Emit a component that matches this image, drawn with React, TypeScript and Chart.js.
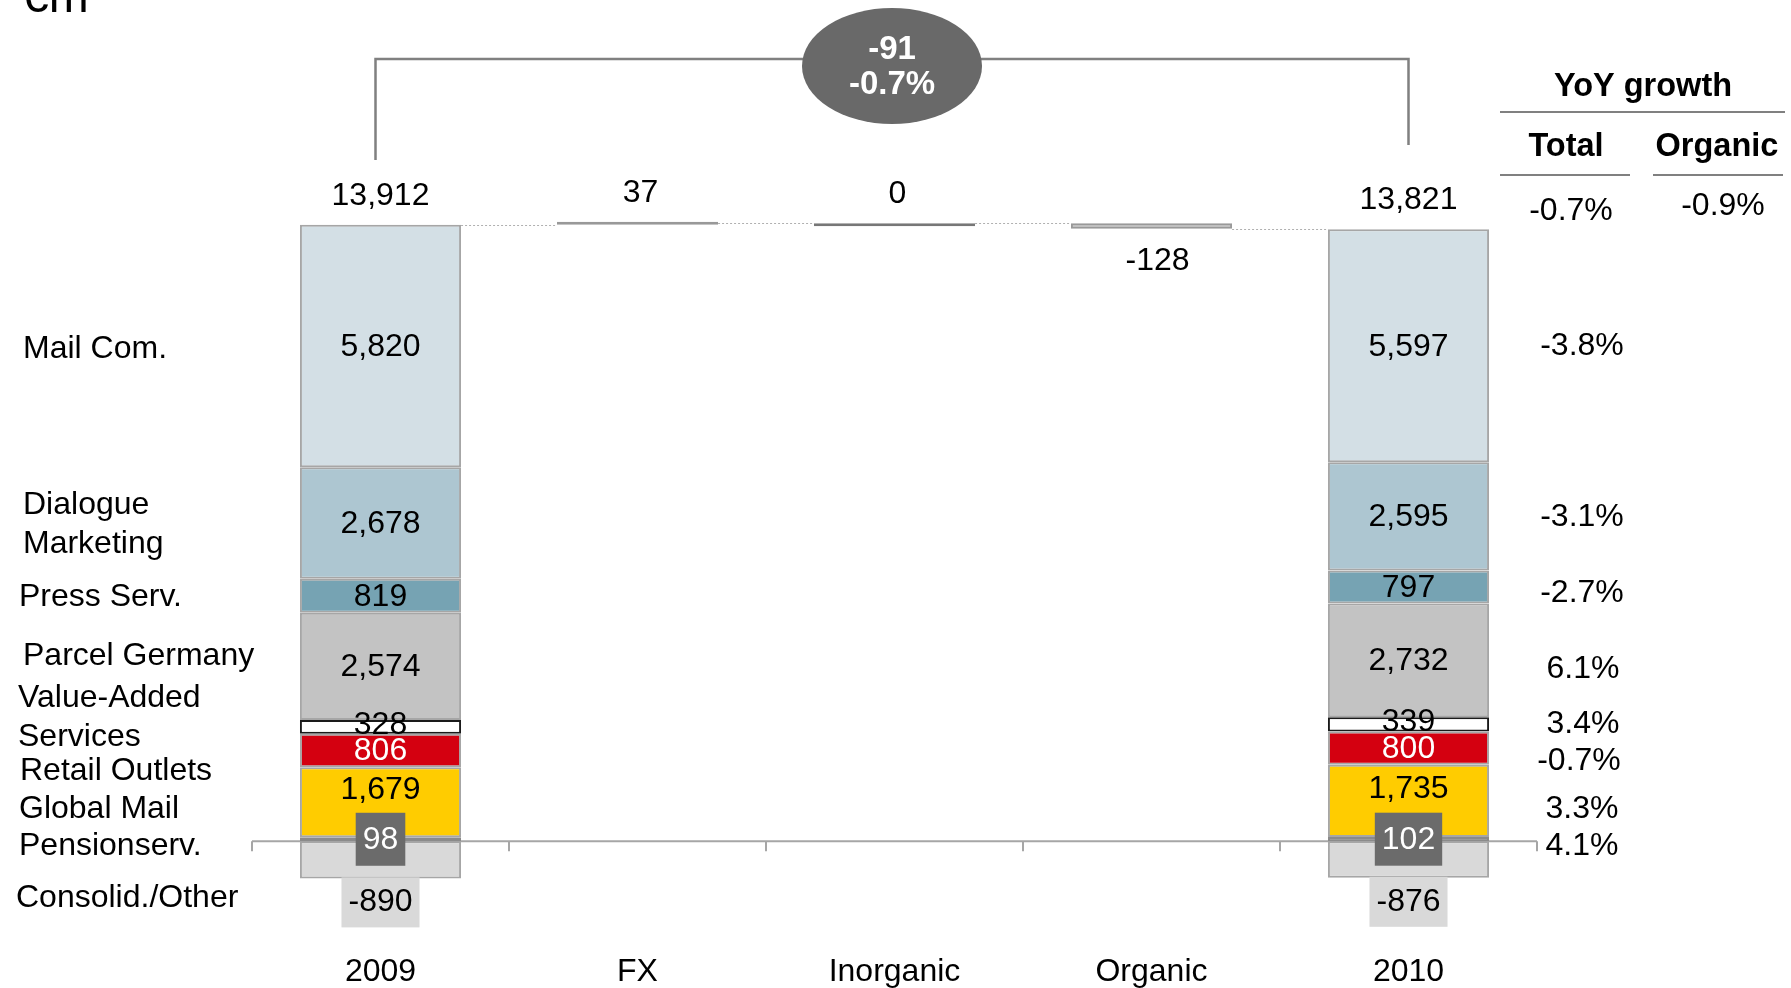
import React, { useEffect, useRef } from "react";
import { Chart, registerables } from "chart.js";

Chart.register(...registerables);

const FONT = '"Liberation Sans", Arial, Helvetica, sans-serif';

// ---- data ----
const categories = ["2009", "FX", "Inorganic", "Organic", "2010"];
// stacked bottom-up (positive), last one is the negative segment
const segmentNames = [
  "Pensionserv.",
  "Global Mail",
  "Retail Outlets",
  "Value-Added Services",
  "Parcel Germany",
  "Press Serv.",
  "Dialogue Marketing",
  "Mail Com.",
  "Consolid./Other",
];
const values2009 = [98, 1679, 806, 328, 2574, 819, 2678, 5820, -890];
const values2010 = [102, 1735, 800, 339, 2732, 797, 2595, 5597, -876];
const bridgeDeltas = [37, 0, -128]; // FX, Inorganic, Organic
const growthTotalLabels = ["-0.7%", "-3.8%", "-3.1%", "-2.7%", "6.1%", "3.4%", "-0.7%", "3.3%", "4.1%"];
const growthOrganicLabels = ["-0.9%"];

// ---- styles ----
const segColors = ["#7a7a7a", "#ffcc00", "#d40010", "#ffffff", "#c3c3c3", "#76a3b3", "#adc6d1", "#d3dfe5", "#d9d9d9"];
const segBorders = ["#8a8a8a", "#a6a6a6", "#a6a6a6", "#1a1a1a", "#a6a6a6", "#a6a6a6", "#a6a6a6", "#a6a6a6", "#a6a6a6"];
const segTextColors = ["#ffffff", "#000000", "#ffffff", "#000000", "#000000", "#000000", "#000000", "#000000", "#000000"];
const segLabelDy = [0, -13, 0, -3, 0, 0, 0, 0, 0];

// left row labels: [text, x, y]
const rowLabelLayout: [string, number, number][] = [
  ["Mail Com.", 23, 349],
  ["Dialogue", 23, 505],
  ["Marketing", 23, 544],
  ["Press Serv.", 19, 597],
  ["Parcel Germany", 23, 656],
  ["Value-Added", 18, 698],
  ["Services", 18, 737],
  ["Retail Outlets", 20, 771],
  ["Global Mail", 19, 809],
  ["Pensionserv.", 19, 846],
  ["Consolid./Other", 16, 898],
];
const growthTotalY = [211, 346, 517, 593, 669, 724, 761, 809, 846];
const growthTotalX = [1571, 1582, 1582, 1582, 1583, 1583, 1579, 1582, 1582];

const sum = (a: number[]) => a.reduce((s, v) => s + v, 0);
const posSum = (a: number[]) => a.filter((v) => v > 0).reduce((s, v) => s + v, 0);
const fmt = (v: number) => v.toLocaleString("en-US");

const total2009 = sum(values2009);
const total2010 = sum(values2010);
const bridgeLevels: number[] = (() => {
  const lv = [posSum(values2009)];
  bridgeDeltas.forEach((d) => lv.push(lv[lv.length - 1] + d));
  return lv;
})();

const BODY = 32;

const annotationPlugin = {
  id: "annotations",
  beforeDatasetsDraw(chart: any) {
    const { ctx, chartArea, scales } = chart;
    const y0 = scales.y.getPixelForValue(0);
    const n = categories.length;
    const w = (chartArea.right - chartArea.left) / n;
    ctx.save();
    ctx.strokeStyle = "#a6a6a6";
    ctx.lineWidth = 2;
    ctx.beginPath();
    ctx.moveTo(chartArea.left, y0);
    ctx.lineTo(chartArea.right, y0);
    for (let i = 0; i <= n; i++) {
      const x = Math.round(chartArea.left + i * w);
      ctx.moveTo(x, y0);
      ctx.lineTo(x, y0 + 10);
    }
    ctx.stroke();

    // dotted connectors
    const bridgeMeta = chart.getDatasetMeta(segmentNames.length);
    const topMeta = chart.getDatasetMeta(segmentNames.length - 2);
    const elAt = (i: number) => (i === 0 || i === n - 1 ? topMeta.data[i] : bridgeMeta.data[i]);
    ctx.strokeStyle = "#b0b0b0";
    ctx.lineWidth = 1;
    ctx.setLineDash([2, 2]);
    for (let i = 0; i < n - 1; i++) {
      const a = elAt(i);
      const b = elAt(i + 1);
      const y = Math.round(scales.y.getPixelForValue(bridgeLevels[i])) + 0.5;
      ctx.beginPath();
      ctx.moveTo(a.x + a.width / 2, y);
      ctx.lineTo(b.x - b.width / 2, y);
      ctx.stroke();
    }
    ctx.restore();
  },
  afterDatasetsDraw(chart: any) {
    const { ctx, scales } = chart;
    ctx.save();
    ctx.textAlign = "center";
    ctx.textBaseline = "middle";
    const font = (size: number, bold = false) => `${bold ? "bold " : ""}${size}px ${FONT}`;

    // segment labels
    const endIdx = [0, categories.length - 1];
    const valuesBy = [values2009, values2010];
    segmentNames.forEach((_, i) => {
      const meta = chart.getDatasetMeta(i);
      endIdx.forEach((idx, k) => {
        const el: any = meta.data[idx];
        const v = valuesBy[k][i];
        const text = fmt(v);
        ctx.font = font(BODY);
        const top = Math.min(el.y, el.base);
        const bottom = Math.max(el.y, el.base);
        const cy = (top + bottom) / 2 + segLabelDy[i];
        if (i === 0) {
          const tw = ctx.measureText(text).width + 14;
          ctx.fillStyle = "#6b6b6b";
          ctx.fillRect(el.x - tw / 2, cy - 26.5, tw, 53);
          ctx.fillStyle = "#ffffff";
          ctx.fillText(text, el.x, cy + 1);
        } else if (v < 0) {
          const tw = ctx.measureText(text).width + 14;
          ctx.fillStyle = segColors[i];
          ctx.fillRect(el.x - tw / 2, bottom - 1, tw, 50);
          ctx.fillStyle = "#000000";
          ctx.fillText(text, el.x, bottom + 24);
        } else {
          ctx.fillStyle = segTextColors[i];
          ctx.fillText(text, el.x, cy + 1);
        }
      });
    });

    // totals
    const topMeta = chart.getDatasetMeta(segmentNames.length - 2);
    ctx.fillStyle = "#000";
    ctx.font = font(BODY);
    [total2009, total2010].forEach((t, k) => {
      const el: any = topMeta.data[endIdx[k]];
      ctx.fillText(fmt(t), el.x, Math.min(el.y, el.base) - 29);
    });

    // bridge labels
    const bridgeMeta = chart.getDatasetMeta(segmentNames.length);
    bridgeDeltas.forEach((d, k) => {
      const el: any = bridgeMeta.data[k + 1];
      const top = Math.min(el.y, el.base);
      const bottom = Math.max(el.y, el.base);
      if (d >= 0) ctx.fillText(fmt(d), el.x + 3, top - 29);
      else ctx.fillText(fmt(d), el.x + 6, bottom + 33);
    });

    // bracket + bubble
    const xa = scales.x.getPixelForValue(0) - 5;
    const xb = scales.x.getPixelForValue(categories.length - 1);
    ctx.strokeStyle = "#808080";
    ctx.lineWidth = 2.5;
    ctx.beginPath();
    ctx.moveTo(xa, 160);
    ctx.lineTo(xa, 59);
    ctx.lineTo(xb, 59);
    ctx.lineTo(xb, 145);
    ctx.stroke();
    const cx = (xa + xb) / 2;
    ctx.fillStyle = "#696969";
    ctx.beginPath();
    ctx.ellipse(cx, 66, 90, 58, 0, 0, Math.PI * 2);
    ctx.fill();
    const diff = total2010 - total2009;
    const pct = (diff / total2009) * 100;
    ctx.fillStyle = "#ffffff";
    ctx.font = font(33, true);
    ctx.fillText(fmt(diff), cx, 50);
    ctx.fillText(`${pct.toFixed(1)}%`, cx, 85);

    // € m
    ctx.fillStyle = "#000";
    ctx.textAlign = "left";
    ctx.textBaseline = "alphabetic";
    ctx.font = font(48);
    ctx.fillText("€m", 22, 12);

    // row labels
    ctx.textBaseline = "middle";
    ctx.font = font(BODY);
    rowLabelLayout.forEach(([t, x, y]) => ctx.fillText(t, x, y));

    // growth table
    ctx.textAlign = "center";
    ctx.font = font(32.5, true);
    ctx.fillText("YoY growth", 1643, 87);
    ctx.fillText("Total", 1566, 147);
    ctx.fillText("Organic", 1717, 147);
    ctx.strokeStyle = "#808080";
    ctx.lineWidth = 2;
    ctx.beginPath();
    ctx.moveTo(1500, 112);
    ctx.lineTo(1785, 112);
    ctx.moveTo(1500, 175);
    ctx.lineTo(1630, 175);
    ctx.moveTo(1653, 175);
    ctx.lineTo(1783, 175);
    ctx.stroke();
    ctx.font = font(BODY);
    growthTotalLabels.forEach((t, i) => ctx.fillText(t, growthTotalX[i], growthTotalY[i]));
    growthOrganicLabels.forEach((t) => ctx.fillText(t, 1723, 206));
    ctx.restore();
  },
};

export default function App() {
  const ref = useRef<HTMLCanvasElement | null>(null);
  useEffect(() => {
    if (!ref.current) return;
    const n = categories.length;
    const segDatasets = segmentNames.map((name, i) => {
      const data: (number | null)[] = categories.map(() => null);
      data[0] = values2009[i];
      data[n - 1] = values2010[i];
      return {
        label: name,
        data,
        backgroundColor: segColors[i],
        borderColor: segBorders[i],
        borderWidth: 2,
        borderSkipped: false,
      };
    });
    const bridgeData: any[] = categories.map(() => null);
    bridgeDeltas.forEach((_, k) => {
      bridgeData[k + 1] = [bridgeLevels[k], bridgeLevels[k + 1]];
    });
    const chart = new Chart(ref.current, {
      type: "bar",
      data: {
        labels: categories,
        datasets: [
          ...segDatasets,
          {
            label: "Bridge",
            data: bridgeData,
            backgroundColor: "#b4b4b4",
            borderColor: ["#999999", "#999999", "#777777", "#999999", "#999999"],
            borderWidth: 2,
            borderSkipped: false,
            minBarLength: 3,
          } as any,
        ],
      },
      options: {
        animation: false,
        responsive: false,
        maintainAspectRatio: false,
        layout: { padding: { left: 252, right: 254, top: 50, bottom: -6 } },
        datasets: { bar: { categoryPercentage: 1, barPercentage: 0.627 } },
        plugins: {
          legend: { display: false },
          tooltip: { enabled: false },
        },
        scales: {
          x: {
            stacked: true,
            grid: { display: false, drawTicks: false },
            border: { display: false },
            ticks: { color: "#000", font: { family: FONT, size: BODY }, padding: 3 },
          },
          y: { stacked: true, display: false, min: -2600, max: 19000 },
        },
      } as any,
      plugins: [annotationPlugin],
    });
    return () => chart.destroy();
  }, []);
  return (
    <div style={{ position: "absolute", left: 0, top: 0, width: 1791, height: 988, overflow: "hidden", background: "#fff" }}>
      <canvas ref={ref} width={1791} height={988} style={{ display: "block", width: 1791, height: 988 }} />
    </div>
  );
}
